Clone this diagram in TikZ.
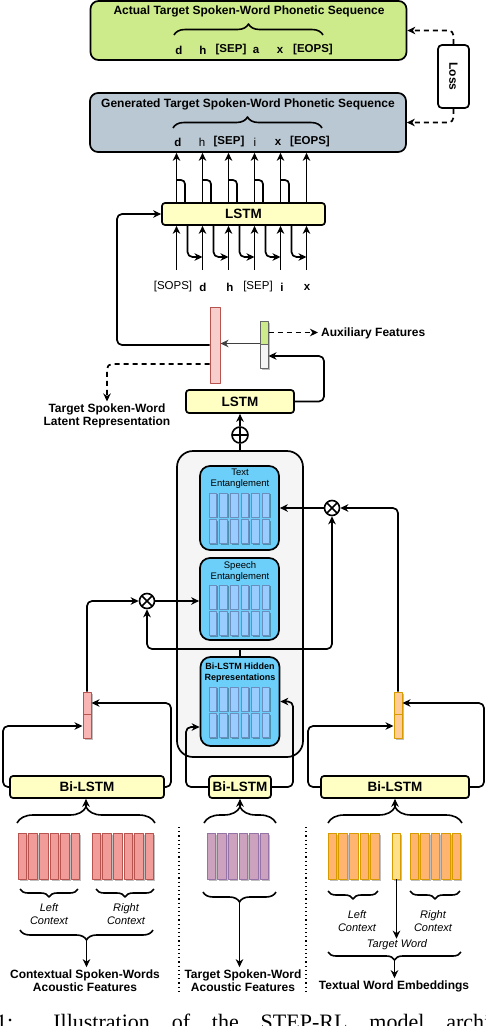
\documentclass[tikz,border=0pt]{standalone}
\usepackage{fontspec, graphicx}
\setmainfont{Liberation Sans}
\newfontfamily\capfont{Liberation Serif}
\usetikzlibrary{decorations.pathreplacing, calc, arrows.meta, shadows}
\newcommand{\fsz}[2]{\fontsize{#1}{#2}\selectfont}
\definecolor{seqgreen}{HTML}{CDEB8B}
\definecolor{seqgray}{HTML}{BAC8D3}
\definecolor{lstmyellow}{HTML}{FFFFC4}
\definecolor{encgray}{HTML}{F5F5F5}
\definecolor{entblue}{HTML}{6CCFF9}
\definecolor{cellblue}{HTML}{99CCFF}
\definecolor{cellline}{HTML}{6C8EBF}
\definecolor{latpink}{HTML}{F8CECC}
\definecolor{ctxpink}{HTML}{F9B4B4}
\definecolor{redline}{HTML}{B85450}
\definecolor{featpink}{HTML}{F19C99}
\definecolor{featpurple}{HTML}{CDA2BE}
\definecolor{purpleline}{HTML}{9673A6}
\definecolor{featorange}{HTML}{FFB570}
\definecolor{wrdorange}{HTML}{FFCC99}
\definecolor{orangeline}{HTML}{D79B00}
\definecolor{tgtyellow}{HTML}{FFE08A}
\definecolor{grayline}{HTML}{666666}
\tikzstyle{seqbox}=[draw, line width=1.7pt, rounded corners=8pt, minimum width=316pt, minimum height=59pt]
\tikzstyle{lstmbox}=[draw, line width=1.7pt, rounded corners=3pt, fill=lstmyellow, inner sep=0pt, minimum height=22pt, font=\fsz{13.5}{15}\bfseries]
\tikzstyle{entbox}=[draw, line width=1.7pt, rounded corners=10pt, fill=entblue, minimum width=79pt]
\tikzstyle{enttitle}=[align=center, inner sep=0pt, font=\fsz{9.5}{11}]
\tikzstyle{hcell}=[draw=cellline, fill=cellblue, line width=0.8pt, inner sep=0pt, minimum width=7.5pt, minimum height=24pt, drop shadow={shadow xshift=1.2pt, shadow yshift=-1.2pt, fill=black, opacity=0.3}]
\tikzstyle{fcell}=[line width=0.8pt, inner sep=0pt, minimum width=8.5pt, minimum height=46pt, drop shadow={shadow xshift=1.5pt, shadow yshift=-1.5pt, fill=black, opacity=0.25}]
\tikzstyle{sbar}=[line width=1pt, inner sep=0pt, minimum width=8pt, drop shadow={shadow xshift=1.5pt, shadow yshift=-1.5pt, fill=black, opacity=0.25}]
\tikzstyle{arr}=[line width=1.7pt, rounded corners=5pt, -{Stealth[length=8pt, width=7.5pt, inset=2.5pt]}]
\tikzstyle{dasharr}=[arr, dash pattern=on 5pt off 4pt]
\tikzstyle{plain}=[line width=1.7pt, rounded corners=4pt]
\tikzstyle{upbrace}=[decorate, decoration={brace, amplitude=#1}, line width=1.6pt]
\tikzstyle{downbrace}=[decorate, decoration={brace, mirror, amplitude=#1}, line width=1.6pt]
\tikzstyle{addop}=[circle, draw, line width=1.6pt, fill=white, inner sep=0pt, minimum size=16pt, path picture={\draw[line width=1.6pt] (path picture bounding box.north) -- (path picture bounding box.south) (path picture bounding box.west) -- (path picture bounding box.east);}]
\tikzstyle{mulop}=[circle, draw, line width=1.6pt, fill=white, inner sep=0pt, minimum size=15pt, path picture={\draw[line width=1.6pt] ($(path picture bounding box.center)+(45:8pt)$) -- ($(path picture bounding box.center)+(225:8pt)$) ($(path picture bounding box.center)+(135:8pt)$) -- ($(path picture bounding box.center)+(315:8pt)$);}]
\tikzstyle{tok}=[inner sep=1pt, font=\fsz{11.5}{13}\bfseries]
\tikzstyle{lbl}=[align=center, inner sep=2pt, font=\fsz{12}{13.5}\bfseries]
\tikzstyle{ctxlbl}=[align=center, inner sep=1pt, font=\fsz{11}{13}\itshape]
\tikzstyle{sepline}=[line width=1.2pt, dash pattern=on 1.2pt off 3pt]

\begin{document}
\begin{tikzpicture}[x=1pt, y=-1pt, line join=round]
            \useasboundingbox (0,0) rectangle (486,1026);
            \clip (0,0) rectangle (486,1026);
            \node[seqbox, fill=seqgreen] (actual) at (248.5,30.5) {};
            \node[lbl] (actualtitle) at (249,11) {Actual Target Spoken-Word Phonetic Sequence};
            \draw[upbrace=11pt] (174,35) -- (323,35);
            \foreach \x/\tok [count=\i] in {179/d, 203/h, 231/[SEP], 256/a, 280/x, 313/[EOPS]}
                \node[tok] (act\i) at (\x,50) {\tok};
            \node[seqbox, fill=seqgray] (gen) at (248,122.5) {};
            \node[lbl] (gentitle) at (248,104) {Generated Target Spoken-Word Phonetic Sequence};
            \draw[upbrace=11pt] (173,128) -- (322,128);
            \foreach \x/\tok [count=\i] in {178/d, 202/\mdseries h, 229/[SEP], 255/\mdseries i, 278/x, 310/[EOPS]}
                \node[tok] (gen\i) at (\x,142) {\tok};
            \node[draw, line width=1.7pt, rounded corners=4pt, minimum width=31pt, minimum height=63pt, inner sep=0pt, font=\fsz{12}{14}\bfseries] (loss) at (453.5,76.5) {\rotatebox{-90}{Loss}};
            \draw[dasharr] (loss.north) |- (actual.east);
            \draw[dasharr] (loss.south) |- (gen.east);

            \node[lstmbox, minimum width=163pt] (lstmdec) at (243.5,214) {LSTM};
            \foreach \i in {0,...,5} {
                \pgfmathsetmacro\xa{176.5+26*\i}
                \draw[arr] (\xa,0 |- lstmdec.north) -- (\xa,0 |- gen.south);
                \draw[arr] (\xa,270) -- (\xa,0 |- lstmdec.south);
            }
            \foreach \i in {0,...,4} {
                \pgfmathsetmacro\xa{176.5+26*\i}
                \pgfmathsetmacro\xb{\xa+8.5}
                \pgfmathsetmacro\xc{\xa+11}
                \pgfmathsetmacro\xd{\xa+26}
                \draw[plain] (\xb,0 |- lstmdec.north) |- (\xa,180);
                \draw[arr] (\xc,0 |- lstmdec.south) |- (\xd,257);
            }
            \foreach \x/\tok [count=\i] in {173/\mdseries[SOPS], 203/d, 230/h, 258/\mdseries[SEP], 282/i, 307/x}
                \node[tok] (inp\i) at (\x,287) {\tok};

            \node[draw=redline, fill=latpink, line width=1pt, inner sep=0pt, minimum width=10pt, minimum height=76pt] (latent) at (215,345) {};
            \node[sbar, draw=grayline, fill=seqgreen, minimum height=23pt] (auxtop) at (264,332.5) {};
            \node[sbar, draw=grayline, fill=encgray, minimum height=24pt] (auxbot) at (264,356) {};
            \node[lbl, anchor=west, inner sep=0pt] (auxlabel) at (321,333) {Auxiliary Features};
            \draw[dasharr, shorten >=3pt] (auxtop.east) -- (auxtop.east -| auxlabel.west);
            \draw[arr, line width=1pt, draw=darkgray] (auxbot.north west) -- (auxbot.north west -| latent.east);
            \draw[arr] (latent.west) -- (117,345) |- (lstmdec.west);
            \node[lbl] (latlabel) at (107,416) {Target Spoken-Word\\Latent Representation};
            \draw[dasharr] ([yshift=-19pt]latent.west) -| (latlabel.north);

            \node[lstmbox, minimum width=108pt, minimum height=23pt] (lstmenc) at (240,401.5) {LSTM};
            \draw[arr] (lstmenc.east) -- (324,401.5) |- (auxbot.east);
            \node[addop] (sum) at (240,435) {};
            \draw[arr] (sum.north) -- (lstmenc.south);

            \node[draw, line width=1.7pt, rounded corners=16pt, fill=encgray, minimum width=126pt, minimum height=306pt] (enc) at (240,604) {};
            \draw[plain] (enc.north) -- (sum.south);
            \node[entbox, minimum height=84pt] (textent) at (239.5,508) {};
            \node[enttitle] (texttitle) at (240,478.5) {Text\\Entanglement};
            \node[entbox, minimum height=82pt] (speechent) at (239.5,599) {};
            \node[enttitle] (speechtitle) at (240,572) {Speech\\Entanglement};
            \node[entbox, minimum height=89pt] (hiddenrep) at (240,701.5) {};
            \node[enttitle, font=\fsz{9}{11}\bfseries] (hiddentitle) at (240,672.5) {Bi-LSTM Hidden\\Representations};
            \foreach \nm/\yt in {textent/466, speechent/558, hiddenrep/660}
                \foreach \i in {0,...,5} {
                    \node[hcell] (\nm-a\i) at (213+10.6*\i,\yt+39) {};
                    \node[hcell] (\nm-b\i) at (213+10.6*\i,\yt+65.5) {};
                }

            \coordinate (split) at (240,649);
            \node[mulop] (multl) at (147,601) {};
            \node[mulop] (multr) at (332,508) {};
            \draw[plain] (hiddenrep.north) -- (split);
            \draw[arr] (split) -| (multl.south);
            \draw[arr] (split) -| (multr.south);

            \node[sbar, draw=redline, fill=ctxpink, minimum height=22pt] (ctxtop) at (87,703) {};
            \node[sbar, draw=redline, fill=ctxpink, minimum height=24pt] (ctxbot) at (87,726) {};
            \node[sbar, draw=orangeline, fill=wrdorange, minimum height=22pt] (wrdtop) at (398,703) {};
            \node[sbar, draw=orangeline, fill=wrdorange, minimum height=24pt] (wrdbot) at (398,726) {};
            \draw[arr] (ctxtop.north) |- (multl.west);
            \draw[arr] (multl.east) -- (multl.east -| speechent.west);
            \draw[arr] (wrdtop.north) |- (multr.east);
            \draw[arr] (multr.west) -- (multr.west -| textent.east);

            \node[lstmbox, minimum width=154pt] (bilstmc) at (87,787) {Bi-LSTM};
            \node[lstmbox, minimum width=62pt] (bilstmt) at (240,787) {Bi-LSTM};
            \node[lstmbox, minimum width=148pt] (bilstmw) at (395,787) {Bi-LSTM};
            \draw[arr] (bilstmc.west) -- (3,787) |- (ctxbot.west);
            \draw[arr] (bilstmc.east) -- (171,787) |- (ctxtop.east);
            \draw[arr] (bilstmt.west) -- (186,787) |- ([yshift=-25.5pt]hiddenrep.west);
            \draw[arr] (bilstmt.east) -- (293,787) |- (hiddenrep.east);
            \draw[arr] (bilstmw.west) -- (308,787) |- (wrdbot.west);
            \draw[arr] (bilstmw.east) -- (484,787) |- (wrdtop.east);

            \draw[upbrace=16pt] (17,823) -- (155,823);
            \draw[upbrace=16pt] (204,823) -- (276,823);
            \draw[upbrace=16pt] (328,823) -- (462,823);
            \coordinate (ctxin) at (86,807);
            \coordinate (tgtin) at (240,807);
            \coordinate (wrdin) at (395,807);
            \draw[arr] (ctxin) -- (ctxin |- bilstmc.south);
            \draw[arr] (tgtin) -- (tgtin |- bilstmt.south);
            \draw[arr] (wrdin) -- (wrdin |- bilstmw.south);
            \draw[sepline] (179,827) -- (179,993);
            \draw[sepline] (306,827) -- (306,993);

            \foreach \i in {0,...,5} {
                \node[fcell, draw=redline, fill=featpink] (lc\i) at (22.5+10.6*\i,856) {};
                \node[fcell, draw=redline, fill=featpink] (rc\i) at (96.5+10.6*\i,856) {};
                \node[fcell, draw=purpleline, fill=featpurple] (tc\i) at (211.5+10.6*\i,856) {};
            }
            \foreach \i in {0,...,4} {
                \node[fcell, draw=orangeline, fill=featorange] (lw\i) at (332.5+10.6*\i,856) {};
                \node[fcell, draw=orangeline, fill=featorange] (rw\i) at (414.2+10.6*\i,856) {};
            }
            \node[fcell, draw=orangeline, fill=tgtyellow, minimum width=7.5pt] (tw) at (396.5,856) {};

            \draw[downbrace=8pt] (20,889) -- (78,889);
            \draw[downbrace=8pt] (96,889) -- (154,889);
            \node[ctxlbl] (lctxc) at (49,914.5) {Left\\Context};
            \node[ctxlbl] (rctxc) at (126,914.5) {Right\\Context};
            \draw[downbrace=10pt] (20,930) -- (153,930);
            \coordinate (ctxout) at (86.5,940);
            \node[lbl] (ctxfeat) at (85,980.5) {Contextual Spoken-Words\\Acoustic Features};
            \draw[arr] (ctxout) -- (ctxout |- ctxfeat.north);

            \draw[downbrace=10pt] (203,892) -- (276,892);
            \coordinate (tgtout) at (239.5,902);
            \node[lbl] (tgtfeat) at (243,980.5) {Target Spoken-Word\\Acoustic Features};
            \draw[arr] (tgtout) -- (tgtout |- tgtfeat.north);

            \draw[downbrace=8pt] (328,891) -- (378,891);
            \draw[downbrace=8pt] (410,891) -- (460,891);
            \node[ctxlbl] (lctxw) at (357,921.5) {Left\\Context};
            \node[ctxlbl] (rctxw) at (433,921.5) {Right\\Context};
            \node[ctxlbl] (twlabel) at (397,945) {Target Word};
            \draw[arr] (tw.south) -- (tw.south |- twlabel.north);
            \draw[downbrace=8pt] (328,952) -- (461,952);
            \coordinate (wrdout) at (394.5,960);
            \node[lbl] (wrdfeat) at (394,986) {Textual Word Embeddings};
            \draw[arr] (wrdout) -- (wrdout |- wrdfeat.north);

            \node[anchor=base west, inner sep=0pt] (caption) at (-4,1029) {\capfont\fsz{22}{26}\makebox[494pt][s]{1: Illustration of the STEP-RL model archi}};
        \end{tikzpicture}
\end{document}
